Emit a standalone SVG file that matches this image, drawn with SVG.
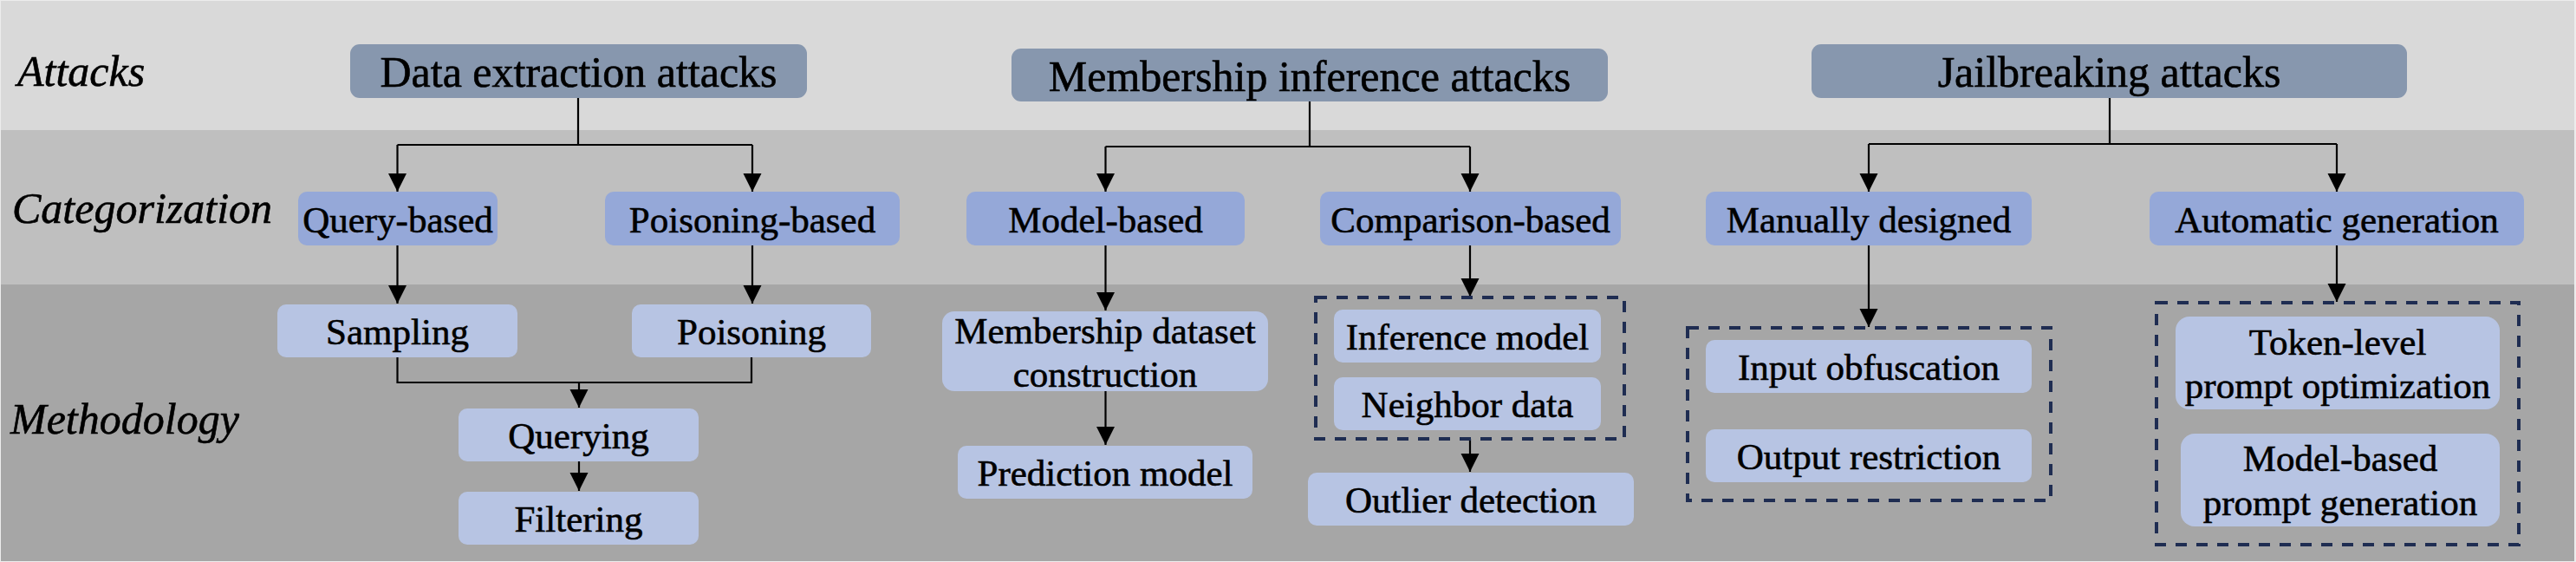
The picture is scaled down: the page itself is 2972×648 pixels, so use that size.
<svg xmlns="http://www.w3.org/2000/svg" width="2972" height="648" viewBox="0 0 2972 648">
<style>
  text{font-family:"Liberation Serif","Times New Roman",serif;fill:#000;stroke:#000;stroke-width:0.6}
  .lbl{font-size:50px;font-style:italic}
  .top{font-size:50px;text-anchor:middle}
  .t{font-size:43px;text-anchor:middle}
  .hb{fill:#8797ae}
  .cb{fill:#95a8d8}
  .mb{fill:#b7c4e3}
  .dash{fill:none;stroke:#1f2d52;stroke-width:4;stroke-dasharray:13 11}
  .c{fill:none;stroke:#000;stroke-width:2.2}
  .a{marker-end:url(#ah)}
</style>
<defs>
  <marker id="ah" markerUnits="userSpaceOnUse" markerWidth="22" markerHeight="22" refX="21" refY="10.5" orient="auto">
    <path d="M0,0 L21,10.5 L0,21 Z" fill="#000"/>
  </marker>
</defs>
<g id="background">
  <rect x="0" y="0" width="2972" height="648" fill="#ececec"/>
  <rect x="1" y="1" width="2969" height="149" fill="#d9d9d9"/>
  <rect x="1" y="150" width="2969" height="178" fill="#bfbfbf"/>
  <rect x="1" y="328" width="2969" height="319" fill="#a6a6a6"/>
  <text class="lbl" x="20" y="99">Attacks</text>
  <text class="lbl" x="14" y="257">Categorization</text>
  <text class="lbl" x="12" y="500">Methodology</text>
</g>
<g id="connectors">
  <path class="c" d="M667,113 V167 M458.5,167 H868"/>
  <path class="c a" d="M458.5,167 V221"/>
  <path class="c a" d="M868,167 V221"/>
  <path class="c" d="M1511,117 V169 M1275.5,169 H1696"/>
  <path class="c a" d="M1275.5,169 V221"/>
  <path class="c a" d="M1696,169 V221"/>
  <path class="c" d="M2434,113 V166 M2156,166 H2696"/>
  <path class="c a" d="M2156,166 V221"/>
  <path class="c a" d="M2696,166 V221"/>
  <path class="c a" d="M458.5,283 V350"/>
  <path class="c a" d="M868,283 V350"/>
  <path class="c" d="M458.5,412 V441 H867 V412"/>
  <path class="c a" d="M668,441 V470"/>
  <path class="c a" d="M668,532 V566"/>
  <path class="c a" d="M1275.5,283 V358"/>
  <path class="c a" d="M1275.5,451 V513"/>
  <path class="c a" d="M1696,283 V342"/>
  <path class="c a" d="M1696,506 V544"/>
  <path class="c a" d="M2156,283 V377"/>
  <path class="c a" d="M2696,283 V348"/>
</g>
<g id="n-data-extraction">
  <rect class="hb" x="404" y="51" width="527" height="62" rx="11"/>
  <text class="top" x="667.5" y="100">Data extraction attacks</text>
</g>
<g id="n-membership">
  <rect class="hb" x="1167" y="56" width="688" height="61" rx="11"/>
  <text class="top" x="1511" y="105">Membership inference attacks</text>
</g>
<g id="n-jailbreaking">
  <rect class="hb" x="2090" y="51" width="687" height="62" rx="11"/>
  <text class="top" x="2433.5" y="100">Jailbreaking attacks</text>
</g>
<g id="n-query-based">
  <rect class="cb" x="344" y="221" width="230" height="62" rx="10"/>
  <text class="t" x="459" y="268">Query-based</text>
</g>
<g id="n-poisoning-based">
  <rect class="cb" x="698" y="221" width="340" height="62" rx="10"/>
  <text class="t" x="868" y="268">Poisoning-based</text>
</g>
<g id="n-model-based">
  <rect class="cb" x="1115" y="221" width="321" height="62" rx="10"/>
  <text class="t" x="1275.5" y="268">Model-based</text>
</g>
<g id="n-comparison-based">
  <rect class="cb" x="1523" y="221" width="347" height="62" rx="10"/>
  <text class="t" x="1696.5" y="268">Comparison-based</text>
</g>
<g id="n-manually-designed">
  <rect class="cb" x="1968" y="221" width="376" height="62" rx="10"/>
  <text class="t" x="2156" y="268">Manually designed</text>
</g>
<g id="n-automatic-generation">
  <rect class="cb" x="2480" y="221" width="432" height="62" rx="10"/>
  <text class="t" x="2696" y="268">Automatic generation</text>
</g>
<g id="n-sampling">
  <rect class="mb" x="320" y="351" width="277" height="61" rx="10"/>
  <text class="t" x="458.5" y="397">Sampling</text>
</g>
<g id="n-poisoning">
  <rect class="mb" x="729" y="351" width="276" height="61" rx="10"/>
  <text class="t" x="867" y="397">Poisoning</text>
</g>
<g id="n-querying">
  <rect class="mb" x="529" y="471" width="277" height="61" rx="10"/>
  <text class="t" x="667.5" y="517">Querying</text>
</g>
<g id="n-filtering">
  <rect class="mb" x="529" y="567" width="277" height="61" rx="10"/>
  <text class="t" x="667.5" y="613">Filtering</text>
</g>
<g id="n-membership-dataset">
  <rect class="mb" x="1087" y="359" width="376" height="92" rx="14"/>
  <text class="t" x="1275" y="396">Membership dataset</text>
  <text class="t" x="1275" y="446">construction</text>
</g>
<g id="n-prediction-model">
  <rect class="mb" x="1105" y="514" width="340" height="61" rx="10"/>
  <text class="t" x="1275" y="560">Prediction model</text>
</g>
<g id="g-comparison-methods">
  <rect class="dash" x="1518" y="343" width="356" height="163"/>
</g>
<g id="n-inference-model">
  <rect class="mb" x="1539" y="357" width="308" height="61" rx="10"/>
  <text class="t" x="1693" y="403">Inference model</text>
</g>
<g id="n-neighbor-data">
  <rect class="mb" x="1539" y="435" width="308" height="61" rx="10"/>
  <text class="t" x="1693" y="481">Neighbor data</text>
</g>
<g id="n-outlier-detection">
  <rect class="mb" x="1509" y="545" width="376" height="61" rx="10"/>
  <text class="t" x="1697" y="591">Outlier detection</text>
</g>
<g id="g-manual-methods">
  <rect class="dash" x="1947" y="378" width="419" height="199"/>
</g>
<g id="n-input-obfuscation">
  <rect class="mb" x="1968" y="392" width="376" height="61" rx="10"/>
  <text class="t" x="2156" y="438">Input obfuscation</text>
</g>
<g id="n-output-restriction">
  <rect class="mb" x="1968" y="495" width="376" height="61" rx="10"/>
  <text class="t" x="2156" y="541">Output restriction</text>
</g>
<g id="g-automatic-methods">
  <rect class="dash" x="2488" y="349" width="418" height="279"/>
</g>
<g id="n-token-level">
  <rect class="mb" x="2510" y="365" width="374" height="107" rx="16"/>
  <text class="t" x="2697" y="409">Token-level</text>
  <text class="t" x="2697" y="459">prompt optimization</text>
</g>
<g id="n-model-based-prompt">
  <rect class="mb" x="2516" y="500" width="368" height="107" rx="16"/>
  <text class="t" x="2700" y="543">Model-based</text>
  <text class="t" x="2700" y="594">prompt generation</text>
</g>
</svg>
